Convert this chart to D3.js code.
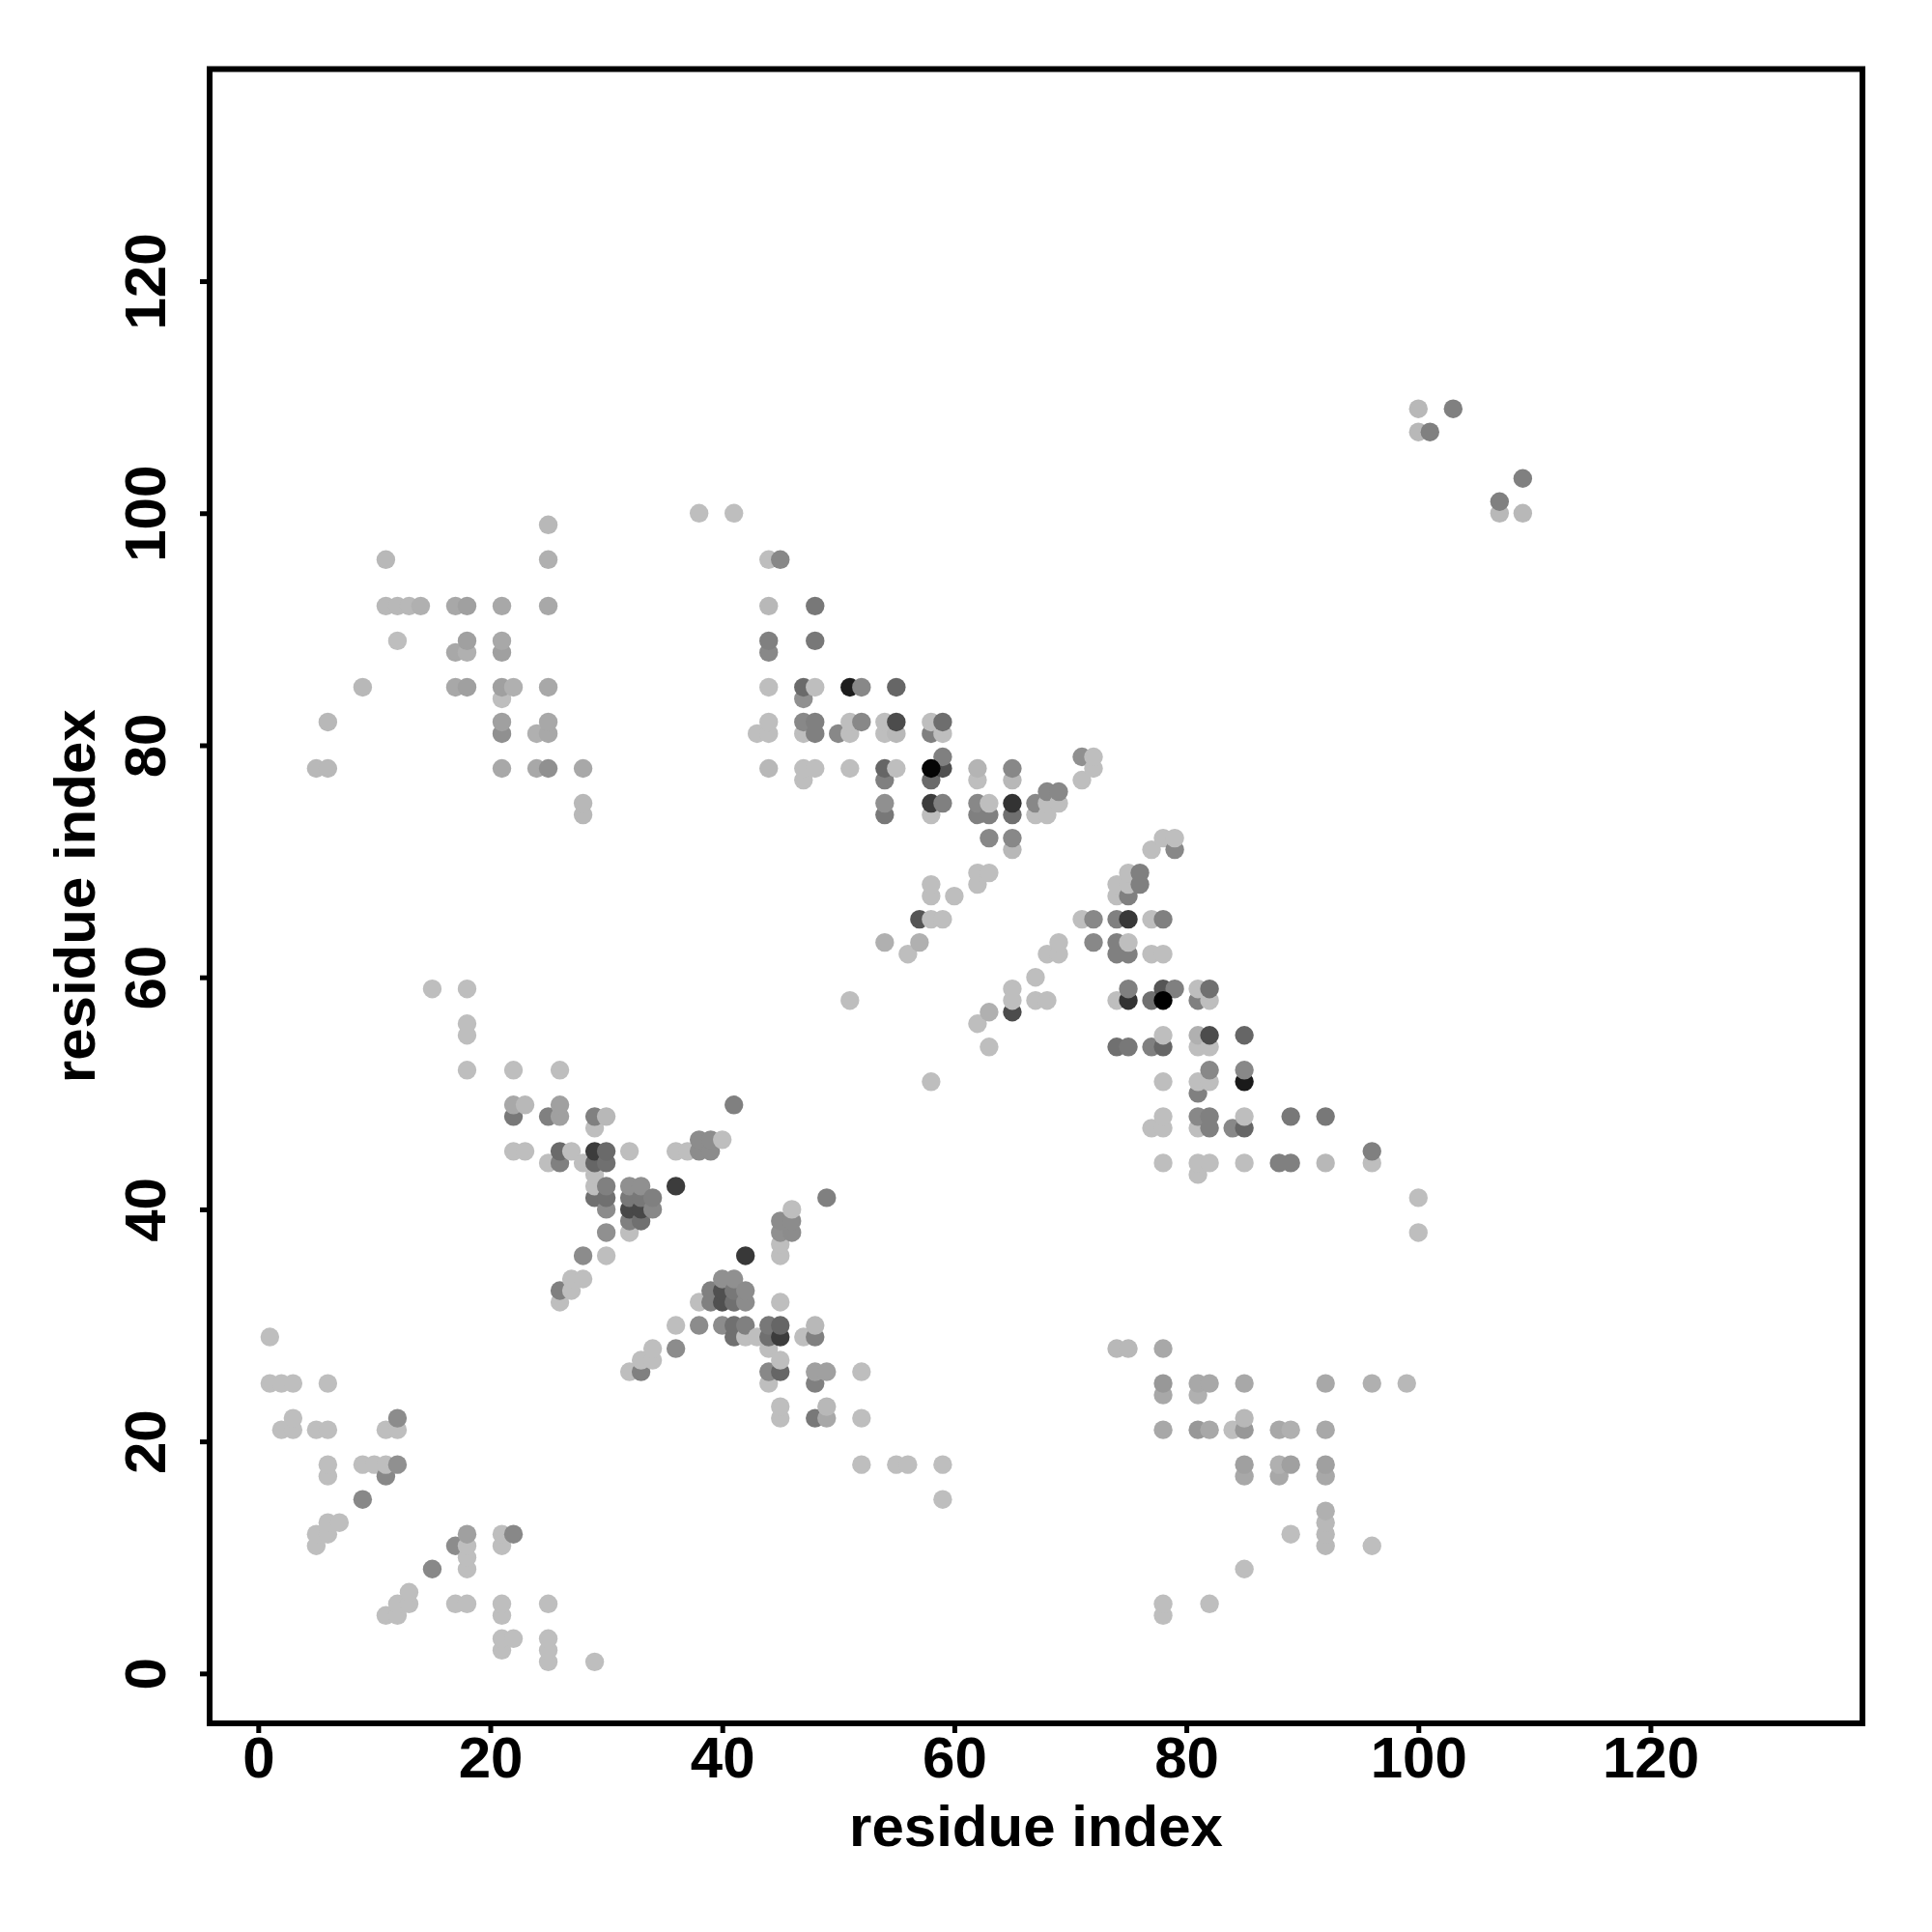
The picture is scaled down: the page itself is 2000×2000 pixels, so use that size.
<!DOCTYPE html>
<html><head><meta charset="utf-8">
<style>html,body{margin:0;padding:0;background:#fff}svg{display:block}text{font-family:"Liberation Sans",Arial,sans-serif;font-weight:bold;fill:#000}</style>
<script src="https://cdn.jsdelivr.net/npm/d3@7/dist/d3.min.js"></script>
</head><body><svg id="c" width="2000" height="2000"></svg>
<script>
// light contact grey
const L = 190;
const tickValues = [0,20,40,60,80,100,120];
const axisTitle = "residue index";
const xDomain = [-4.19,138.28];
const yDomain = [-4.3,138.28];
// [residue x, residue y, grey level]
const lowerLeft = [[1,29,L],[1,25,L],[2,25,L],[3,25,L],[6,25,L],[3,22,L],[12,22,140],[2,21,L],[3,21,L],[5,21,L],[6,21,L],[11,21,L],[12,21,L],[6,18,L],[9,18,L],[10,18,L],[11,18,L],[12,18,144],[6,17,L],[11,17,136],[9,15,136],[6,13,L],[7,13,L],[5,12,L],[6,12,L],[18,12,160],[21,12,L],[22,12,136],[5,11,L],[17,11,140],[18,11,L],[21,11,L],[18,10,L],[15,9,136],[18,9,L],[13,7,L],[12,6,L],[13,6,L],[17,6,L],[18,6,L],[21,6,L],[25,6,L],[11,5,L],[12,5,L],[21,5,L],[21,3,L],[22,3,L],[25,3,L],[21,2,L],[25,2,L],[25,1,L],[29,1,L]];
const centreLeft = [[15,59,L],[18,59,L],[18,56,L],[18,55,L],[18,52,L],[22,52,L],[26,52,L],[22,49,168],[23,49,184],[26,49,160],[41,49,128],[22,48,120],[25,48,128],[26,48,160],[29,48,128],[30,48,184],[29,47,L],[38,46,140],[39,46,140],[40,46,L],[22,45,L],[23,45,L],[26,45,106],[27,45,L],[29,45,60],[30,45,106],[32,45,L],[36,45,L],[37,45,L],[38,45,140],[39,45,140],[25,44,L],[26,44,128],[28,44,L],[29,44,102],[30,44,112],[29,43,L],[29,42,L],[30,42,128],[32,42,144],[33,42,144],[36,42,60],[29,41,112],[30,41,112],[32,41,120],[33,41,120],[34,41,128],[49,41,128],[30,40,140],[32,40,72],[33,40,72],[34,40,136],[46,40,L],[32,39,128],[33,39,112],[45,39,140],[46,39,140],[30,38,144],[32,38,L],[45,38,144],[46,38,140],[45,37,L],[28,36,140],[30,36,L],[42,36,56],[45,36,L],[27,34,L],[28,34,L],[40,34,144],[41,34,144],[26,33,128],[27,33,L],[39,33,128],[40,33,80],[41,33,120],[42,33,140],[26,32,L],[38,32,L],[39,32,128],[40,32,80],[41,32,112],[42,32,140],[45,32,L]];
const centreLower = [[36,30,L],[38,30,140],[40,30,140],[41,30,112],[42,30,128],[44,30,120],[45,30,102],[48,30,184],[41,29,112],[42,29,L],[43,29,L],[44,29,112],[45,29,60],[47,29,L],[48,29,128],[34,28,L],[36,28,140],[44,28,L],[33,27,L],[34,27,L],[45,27,L],[32,26,L],[33,26,128],[44,26,136],[45,26,102],[48,26,160],[49,26,160],[52,26,L],[44,25,L],[48,25,128],[45,23,L],[49,23,184],[45,22,L],[48,22,120],[49,22,168],[52,22,L],[52,18,L],[55,18,L],[56,18,L],[59,18,L],[59,15,L]];
const lowerRight = [[74,28,184],[75,28,184],[78,28,168],[78,25,152],[81,25,168],[82,25,168],[85,25,168],[92,25,168],[96,25,176],[99,25,184],[78,24,168],[81,24,176],[85,22,184],[78,21,168],[81,21,152],[82,21,168],[84,21,L],[85,21,152],[88,21,168],[89,21,176],[92,21,168],[85,18,160],[88,18,176],[89,18,160],[92,18,160],[85,17,168],[88,17,168],[92,17,168],[92,14,176],[92,13,184],[89,12,L],[92,12,184],[92,11,184],[96,11,L],[85,9,L],[78,6,L],[82,6,L],[78,5,L]];
const upperLeft = [[25,99,184],[11,96,184],[25,96,176],[11,92,184],[12,92,184],[13,92,184],[14,92,176],[17,92,168],[18,92,160],[21,92,168],[25,92,168],[12,89,L],[18,89,160],[21,89,168],[17,88,168],[18,88,176],[21,88,160],[9,85,184],[17,85,168],[18,85,160],[21,85,160],[22,85,176],[25,85,168],[21,84,L],[6,82,184],[21,82,160],[25,82,168],[21,81,144],[24,81,176],[25,81,168],[5,78,184],[6,78,184],[21,78,168],[24,78,168],[25,78,144],[28,78,168],[28,75,184],[28,74,184]];
const upperMiddle = [[38,100,L],[41,100,L],[44,96,L],[45,96,136],[44,92,184],[48,92,120],[44,89,128],[48,89,120],[44,88,136],[44,85,L],[47,85,106],[48,85,L],[51,85,28],[52,85,136],[55,85,102],[47,84,144],[44,82,L],[47,82,136],[48,82,128],[51,82,L],[52,82,136],[54,82,L],[55,82,76],[58,82,L],[59,82,110],[43,81,L],[44,81,L],[47,81,L],[48,81,128],[50,81,136],[51,81,L],[54,81,L],[55,81,184],[58,81,128],[59,81,L],[59,79,128],[71,79,144],[72,79,L],[44,78,184],[47,78,L],[48,78,L],[51,78,L],[54,78,102],[55,78,L],[58,78,5],[59,78,80],[62,78,180],[65,78,136],[72,78,L],[47,77,L],[54,77,128],[58,77,106],[62,77,L],[65,77,184],[71,77,L],[68,76,136],[69,76,136],[54,75,144],[58,75,60],[59,75,128],[62,75,136],[63,75,L],[65,75,51],[67,75,136],[68,75,L],[69,75,L],[54,74,120],[58,74,L],[62,74,128],[63,74,128],[65,74,112],[67,74,L],[68,74,L],[63,72,136],[65,72,136],[65,71,184],[62,69,L],[63,69,L],[62,68,L],[58,68,L],[58,67,L],[60,67,L],[57,65,85],[58,65,L],[59,65,L],[54,63,176],[57,63,176],[56,62,L],[51,58,L]];
const centreRight = [[77,71,L],[78,72,L],[79,72,L],[79,71,136],[75,69,L],[76,69,128],[74,68,L],[75,68,L],[76,68,128],[74,67,L],[75,67,128],[71,65,L],[72,65,136],[74,65,128],[75,65,56],[77,65,L],[78,65,128],[69,63,L],[72,63,136],[74,63,128],[75,63,L],[68,62,L],[69,62,L],[74,62,128],[75,62,128],[77,62,L],[78,62,L],[67,60,L],[65,59,L],[75,59,128],[78,59,85],[79,59,128],[81,59,L],[82,59,112],[65,58,L],[67,58,L],[68,58,L],[74,58,L],[75,58,51],[77,58,112],[78,58,0],[81,58,128],[82,58,L],[63,57,176],[65,57,76],[62,56,L],[63,54,L],[74,54,112],[75,54,120],[77,54,128],[78,54,102],[81,55,176],[82,55,76],[85,55,102],[78,55,L],[81,54,L],[82,54,L],[82,52,136],[85,52,136],[58,51,L],[78,51,L],[81,51,L],[82,51,L],[85,51,26],[81,50,128],[78,48,L],[81,48,136],[82,48,128],[85,48,L],[89,48,120],[92,48,120],[77,47,L],[78,47,L],[81,47,L],[82,47,128],[84,47,136],[85,47,102],[96,45,128],[78,44,L],[81,44,L],[82,44,L],[85,44,L],[88,44,128],[89,44,128],[92,44,184],[96,44,L],[81,43,L],[100,41,L],[100,38,L]];
const upperRight = [[100,109,184],[103,109,128],[100,107,184],[101,107,128],[109,103,128],[107,101,128],[107,100,184],[109,100,184]];
// the two blackest contacts lie on top of their neighbours
const drawnLast = [[58,78],[78,58]];

const contacts = [...lowerLeft,...centreLeft,...centreLower,...lowerRight,...upperLeft,...upperMiddle,...centreRight,...upperRight];
const rank = d => drawnLast.some(e=>e[0]===d[0]&&e[1]===d[1]) ? 1 : 0;
contacts.sort((a,b)=>rank(a)-rank(b)||a[0]-b[0]||a[1]-b[1]);

const plot = {left:217,right:1928,top:71.5,bottom:1784};
const x = d3.scaleLinear().domain(xDomain).range([plot.left,plot.right]);
const y = d3.scaleLinear().domain(yDomain).range([plot.bottom,plot.top]);
const svg = d3.select("#c");
svg.append("rect").attr("width",2000).attr("height",2000).attr("fill","#fff");

svg.append("g").selectAll("circle").data(contacts).join("circle")
  .attr("cx",d=>x(d[0])).attr("cy",d=>y(d[1])).attr("r",9.7)
  .attr("fill",d=>d3.rgb(d[2],d[2],d[2]));

const styleAxis = g=>{
  g.select(".domain").remove();
  g.selectAll(".tick line").attr("stroke","#000").attr("stroke-width",5);
  g.selectAll(".tick text").attr("font-size",60).attr("fill","#000");
};
svg.append("g").attr("transform",`translate(0,${plot.bottom})`)
  .call(d3.axisBottom(x).tickValues(tickValues).tickSize(10).tickSizeOuter(0).tickPadding(0).tickFormat(d3.format("d")))
  .call(styleAxis)
  .selectAll(".tick text").attr("y",56).attr("dy",0);
svg.append("g").attr("transform",`translate(${plot.left},0)`)
  .call(d3.axisLeft(y).tickValues(tickValues).tickSize(10).tickSizeOuter(0).tickFormat(d3.format("d")))
  .call(styleAxis)
  .selectAll(".tick text").attr("x",0).attr("y",0).attr("dy",0).attr("text-anchor","middle")
  .attr("transform","translate(-46,0) rotate(-90)");

svg.append("rect").attr("x",plot.left).attr("y",plot.top)
  .attr("width",plot.right-plot.left).attr("height",plot.bottom-plot.top)
  .attr("fill","none").attr("stroke","#000").attr("stroke-width",6);

svg.append("text").attr("x",(plot.left+plot.right)/2).attr("y",1911)
  .attr("text-anchor","middle").attr("font-size",60).text(axisTitle);
svg.append("text").attr("transform",`translate(98,${(plot.top+plot.bottom)/2}) rotate(-90)`)
  .attr("text-anchor","middle").attr("font-size",60).text(axisTitle);
</script></body></html>
